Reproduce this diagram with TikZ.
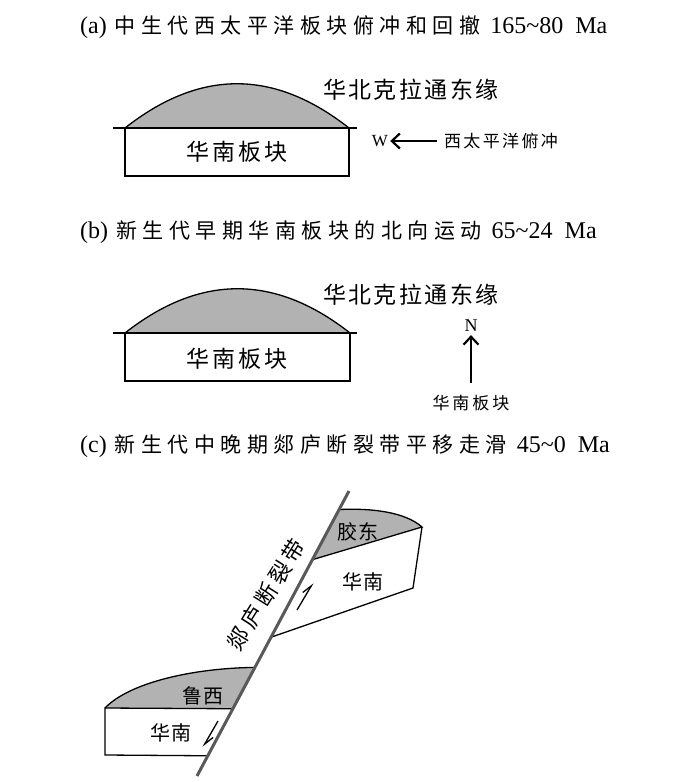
\documentclass[tikz,border=0pt]{standalone}
\usepackage{fontspec}
\setmainfont{Liberation Serif}
\newfontfamily\cjk{Noto Sans CJK SC}
\usetikzlibrary{arrows.meta,calc}
% spaced CJK text: \spaced{gap}{chars}
\newlength\cjkgap
\def\spaced#1#2{{\cjk\setlength\cjkgap{#1}\spacedfirst#2\relax}}
\def\spacedfirst#1{#1\spacedi}
\def\spacedi#1{\ifx#1\relax\else\hskip\cjkgap#1\expandafter\spacedi\fi}
\newcommand\titlecjk[1]{{\fontsize{21}{23}\selectfont\spaced{5.5pt}{#1}}}
\tikzset{
  paneltitle/.style={anchor=base west,inner sep=0pt,font=\fontsize{24}{26}\selectfont},
  biglabel/.style={inner sep=0pt,font=\fontsize{23}{25}\selectfont},
  midlabel/.style={inner sep=0pt,font=\fontsize{20}{22}\selectfont},
  smalllabel/.style={inner sep=0pt,font=\fontsize{17}{20}\selectfont},
  compass/.style={inner sep=0pt,font=\fontsize{18}{20}\selectfont},
  craton/.style={fill=gray!60},
  edge/.style={draw=black,line width=1.3pt},
  fault/.style={draw=black!65,line width=3pt},
  push/.style={-{Straight Barb[length=8pt,width=15pt,line width=2.2pt]},line width=1.4pt},
  slip/.style={-{Straight Barb[left,length=10pt,width=8pt,line width=1.3pt]},line width=1.3pt}
}
\begin{document}
\begin{tikzpicture}[x=1pt,y=-1pt]
\useasboundingbox (0,0) rectangle (683,782);
% (a) subduction and rollback
\node[paneltitle] (ta) at (80,33) {(a)\hskip8pt\titlecjk{中生代西太平洋板块俯冲和回撤}\hskip10pt 165\textasciitilde80\hskip12pt Ma};
\coordinate (aL) at (125,128);
\coordinate (aR) at (349,128);
\fill[craton] (aL) .. controls (200,69) and (274,69) .. (aR) -- cycle;
\draw[edge] (aL) .. controls (200,69) and (274,69) .. (aR);
\draw[edge] (113,128) -- (357,128);
\draw[edge] (aL) -- (125,176) -- (349,176) -- (aR);
\node[biglabel] (sa) at (237,152) {\spaced{3.2pt}{华南板块}};
\node[biglabel] (na) at (411,90) {\spaced{2.5pt}{华北克拉通东缘}};
\node[compass,font=\fontsize{17}{18}\selectfont] (W) at (380,141) {W};
\node[smalllabel] (pac) at (501,141) {\spaced{2.4pt}{西太平洋俯冲}};
\coordinate (wtail) at (437,141);
\draw[push,shorten >=2pt] (wtail) -- (W.east);
% (b) northward motion
\node[paneltitle] (tb) at (80,238.5) {(b)\hskip8pt\titlecjk{新生代早期华南板块的北向运动}\hskip10pt 65\textasciitilde24\hskip12pt Ma};
\begin{scope}[shift={(0,205)}]
\coordinate (bL) at (125,128);
\coordinate (bR) at (350,128);
\fill[craton] (bL) .. controls (200,69) and (275,69) .. (bR) -- cycle;
\draw[edge] (bL) .. controls (200,69) and (275,69) .. (bR);
\draw[edge] (113,128) -- (357,128);
\draw[edge] (bL) -- (125,176) -- (350,176) -- (bR);
\end{scope}
\node[biglabel] (sb) at (237,359) {\spaced{3.2pt}{华南板块}};
\node[biglabel] (nb) at (411,295) {\spaced{2.5pt}{华北克拉通东缘}};
\node[compass] (N) at (471,326) {N};
\node[smalllabel] (plate) at (471,403) {\spaced{3pt}{华南板块}};
\coordinate (ntail) at (471,383);
\draw[push,line width=2pt,shorten >=3pt] (ntail) -- (N.south);
% (c) Tan-Lu strike slip
\node[paneltitle] (tc) at (80,452) {(c)\hskip8pt\titlecjk{新生代中晚期郯庐断裂带平移走滑}\hskip10pt 45\textasciitilde0\hskip12pt Ma};
\coordinate (ftop) at (349,491);
\coordinate (fbot) at (197,776);
% upper block
\coordinate (uA) at ($(ftop)!0.065!(fbot)$);
\coordinate (uE) at ($(ftop)!0.241!(fbot)$);
\coordinate (uD) at ($(ftop)!0.513!(fbot)$);
\coordinate (uB) at (422,527);
\coordinate (uC) at (413,588);
\fill[craton] (uA) .. controls (372,508) and (405,512) .. (uB) -- (uE) -- cycle;
\draw[edge] (uA) .. controls (372,508) and (405,512) .. (uB) -- (uE);
\draw[edge] (uB) -- (uC) -- (uD);
% lower block
\coordinate (lF) at ($(ftop)!0.619!(fbot)$);
\coordinate (lH) at ($(ftop)!0.764!(fbot)$);
\coordinate (lJ) at ($(ftop)!0.929!(fbot)$);
\coordinate (lG) at (105,708);
\coordinate (lI) at (105,755);
\fill[craton] (lG) .. controls (130,682) and (195,668) .. (lF) -- (lH) -- cycle;
\draw[edge] (lG) .. controls (130,682) and (195,668) .. (lF);
\draw[edge] (lH) -- (lG) -- (lI) -- (lJ);
\draw[fault] (ftop) -- (fbot);
\node[biglabel,font=\fontsize{22}{24}\selectfont,rotate=58] (tl) at (266,595) {\spaced{4pt}{郯庐断裂带}};
\node[midlabel] (jd) at (358,532) {\spaced{1.5pt}{胶东}};
\node[midlabel] (hu) at (363,582) {\spaced{1.5pt}{华南}};
\node[midlabel] (lx) at (203,696) {\spaced{1.5pt}{鲁西}};
\node[midlabel] (hl) at (171,733) {\spaced{1.5pt}{华南}};
\draw[slip] (297,610) -- (313,583);
\draw[slip] (218,721) -- (203,747);
\end{tikzpicture}
\end{document}
